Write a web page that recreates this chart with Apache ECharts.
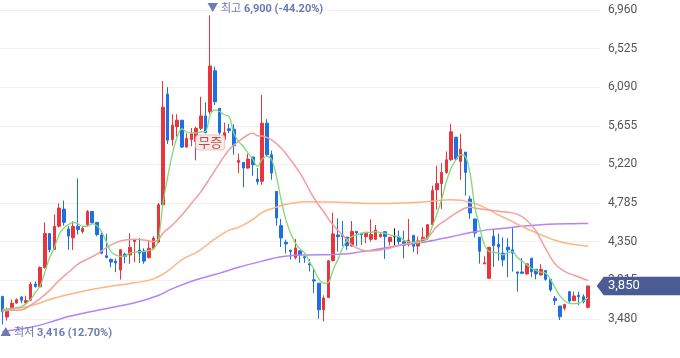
<!DOCTYPE html>
<html><head><meta charset="utf-8">
<script src="https://cdn.jsdelivr.net/npm/echarts@6/dist/echarts.min.js"></script>
<style>html,body{margin:0;padding:0;background:#fff}#c{width:680px;height:358px}</style>
</head><body><div id="c"></div>
<script>
// ---- data ----
const openP = [3730,3500,3595,3658,3725,3660,3690,3872,3840,4058,4440,4262,4523,4716,4493,4393,4522,4463,4541,4690,
4567,4425,4190,4150,4130,4030,4208,4200,4350,4255,4245,4170,4275,4345,4765,6012,5500,5645,5718,5415,
5500,5476,5627,5766,5814,6276,5852,5503,5621,5617,5243,5243,5179,5303,5055,5029,5685,5329,4916,4530,
4342,4253,4170,4246,4180,4099,3919,3881,3581,3720,4137,4425,4425,4400,4300,4465,4445,4406,4376,4376,
4406,4462,4350,4406,4399,4348,4318,4420,4300,4356,4390,4541,4935,5004,5130,5272,5527,5254,5359,4830,
4605,4399,4099,3936,4410,4320,4220,4287,4257,4008,4008,3986,4163,4038,3974,4023,3925,3711,3624,3600,
3786,3684,3744,3729,3609];
const closeP = [3560,3565,3655,3695,3690,3685,3870,3845,4058,4440,4258,4522,4728,4567,4412,4520,4486,4497,4690,4563,
4430,4219,4172,4120,4110,4258,4185,4286,4368,4220,4130,4275,4390,4765,5865,5493,5662,5718,5415,5512,
5570,5627,5766,5580,6329,5926,5577,5578,5602,5430,5265,5179,5280,5216,5025,5685,5329,5122,4616,4391,
4324,4238,4279,4204,4168,4086,3907,3581,3715,4135,4437,4406,4406,4305,4465,4447,4427,4455,4432,4481,
4432,4406,4399,4406,4350,4310,4367,4297,4360,4398,4541,4926,5004,5130,5272,5587,5280,5392,5130,4672,
4447,4241,4112,4286,4305,4290,4144,4257,4220,3993,3993,4099,4012,3986,4038,3925,3805,3684,3503,3640,
3680,3737,3729,3673,3850];
const lowP = [3416,3460,3580,3650,3655,3652,3680,3830,3835,4045,4228,4255,4510,4530,4258,4255,4430,4441,4523,4541,
4410,4208,4160,4060,4005,3922,4105,4099,4120,4110,4100,4160,4270,4335,4745,5450,5430,5535,5405,5410,
5425,5265,5608,5570,5790,5889,5551,5495,5572,5329,5122,4961,5170,5093,4991,4991,5310,5047,4530,4290,
4215,4150,4150,4110,4110,4013,3769,3480,3450,3712,4125,4237,4300,4256,4294,4300,4312,4331,4350,4370,
4395,4155,4305,4305,4305,4160,4295,4232,4208,4350,4370,4530,4710,4718,5115,5261,5265,5047,4868,4605,
4399,4102,4095,3936,4065,4135,4069,3948,4012,3786,3990,3975,3948,3925,3970,3910,3786,3635,3466,3575,
3661,3680,3635,3654,3597];
const highP = [3740,3605,3695,3710,3735,3740,3895,3900,4070,4567,4445,4655,4782,4812,4523,4580,5063,4523,4705,4692,
4570,4451,4440,4160,4160,4260,4225,4444,4375,4390,4275,4360,4410,4785,6160,6090,5785,5785,5720,5570,
5630,5645,5983,5920,6900,6321,5852,5690,5677,5674,5340,5245,5340,5305,5179,6004,5730,5374,4920,4605,
4372,4258,4380,4250,4185,4151,4050,3881,3745,4144,4677,4612,4582,4400,4582,4465,4445,4458,4601,4537,
4445,4462,4400,4500,4475,4472,4605,4420,4408,4510,4541,4981,5205,5235,5366,5677,5527,5565,5359,4868,
4605,4399,4185,4290,4485,4440,4397,4389,4502,4010,4163,4100,4163,4038,4099,4023,3925,3737,3624,3650,
3786,3786,3786,3756,3850];
// moving averages: [day index, value]
const ma5 = [[0,3575],[2,3600],[4,3615],[6,3700],[7,3780],[8,3850],[9,4004],[10,4170],[11,4282],[12,4430],[13,4504],[14,4541],
[15,4565],[16,4552],[17,4523],[18,4523],[19,4552],[20,4530],[21,4462],[22,4350],[23,4238],[24,4200],[25,4182],[26,4189],
[27,4219],[28,4230],[29,4238],[30,4238],[31,4249],[32,4264],[33,4369],[34,4780],[35,5080],[36,5342],[37,5529],[38,5622],
[39,5585],[40,5574],[41,5574],[42,5585],[43,5591],[44,5779],[45,5835],[46,5816],[47,5779],[48,5760],[49,5572],[50,5479],
[51,5422],[52,5347],[53,5280],[54,5197],[55,5280],[56,5310],[57,5272],[58,5085],[59,4822],[60,4597],[61,4447],[62,4335],
[63,4267],[64,4222],[65,4125],[66,4031],[67,3926],[68,3881],[69,3889],[70,4031],[71,4144],[72,4275],[73,4369],[74,4406],
[75,4425],[76,4444],[77,4451],[78,4455],[79,4462],[80,4451],[81,4444],[82,4425],[83,4414],[84,4406],[85,4363],[86,4350],
[87,4340],[88,4340],[89,4350],[90,4389],[91,4520],[92,4665],[93,4830],[94,5029],[95,5179],[96,5272],[97,5329],[98,5310],
[99,5122],[100,4748],[101,4522],[102,4316],[103,4241],[104,4230],[105,4222],[106,4201],[107,4227],[108,4238],[109,4170],
[110,4130],[111,4090],[112,4050],[113,4025],[114,4005],[115,3995],[116,3925],[117,3830],[118,3740],[119,3680],[120,3655],
[121,3650],[122,3658],[123,3680],[124,3720]];
const ma20 = [[0,3588],[2,3577],[4,3580],[6,3633],[8,3707],[10,3800],[12,3911],[14,4004],[16,4096],[18,4152],[20,4208],
[22,4283],[24,4339],[26,4369],[28,4376],[30,4369],[32,4350],[33,4369],[34,4444],[36,4537],[38,4649],[40,4780],[42,4911],
[44,5070],[46,5235],[48,5385],[50,5479],[52,5554],[53,5572],[54,5542],[55,5540],[57,5497],[59,5404],[61,5272],[63,5122],
[64,5030],[66,4837],[68,4687],[70,4537],[72,4425],[74,4312],[76,4256],[78,4245],[80,4256],[82,4275],[84,4312],[85,4320],
[87,4340],[89,4375],[90,4391],[92,4522],[94,4597],[96,4672],[98,4729],[99,4736],[101,4720],[103,4705],[105,4691],
[107,4680],[109,4660],[111,4590],[113,4466],[115,4270],[117,4098],[119,4015],[121,3970],[124,3911]];
const ma60 = [[0,3566],[4,3604],[7,3641],[10,3697],[14,3754],[17,3791],[21,3829],[24,3855],[28,3885],[32,3930],[35,4016],
[38,4147],[41,4225],[42,4260],[45,4380],[48,4480],[50,4510],[53,4600],[55,4680],[57,4720],[60,4770],[64,4800],[70,4795],
[75,4785],[80,4778],[85,4785],[89,4796],[93,4815],[95,4823],[97,4815],[99,4790],[101,4760],[103,4710],[105,4650],
[107,4600],[110,4520],[113,4450],[117,4365],[120,4325],[124,4297]];
const ma120 = [[0,3335],[2,3352],[6,3385],[10,3440],[14,3505],[21,3585],[28,3660],[33,3742],[36,3820],[41,3920],[46,3995],
[50,4060],[55,4130],[59,4180],[64,4200],[70,4205],[74,4220],[80,4270],[85,4314],[90,4351],[95,4405],[100,4460],[103,4485],
[107,4504],[110,4523],[114,4541],[117,4549],[121,4552],[124,4555]];
const totalSlots = 127; // 125 trading days + 2 empty slots at right
const days = Array.from({length: totalSlots}, (_, i) => 'D' + (i + 1));
const yMin = 3045, yMax = 6960, yStep = 435;
const highPoint = {idx: 44, value: 6900, label: '6,900 (-44.20%)'};
const lowPoint = {idx: 0, value: 3416, label: '3,416 (12.70%)'};
const lastPrice = 3850, lastPriceText = '3,850';
const eventMark = {idx: 44, value: 5467, text: '무증'};

// ---- chart ----
const RED = '#e9343c', BLUE = '#1c6fe6';
const chart = echarts.init(document.getElementById('c'), null, {renderer: 'canvas'});
const lineS = (name, data, color, w, z) => ({
  name, type: 'line', data, smooth: 0.35, showSymbol: false, connectNulls: true, z,
  lineStyle: {color, width: w}, itemStyle: {color}, silent: true
});
chart.setOption({
  animation: false,
  backgroundColor: '#ffffff',
  grid: {left: -1, right: 80, top: 10, height: 347.4},
  xAxis: {type: 'category', data: days, boundaryGap: true, show: false},
  yAxis: {
    type: 'value', position: 'right', min: yMin, max: yMax, interval: yStep, scale: true,
    axisLine: {show: false}, axisTick: {show: false},
    axisLabel: {showMinLabel: false, margin: 8, color: '#555', fontSize: 12, fontFamily: 'Roboto, "Noto Sans", sans-serif',
      formatter: v => v.toLocaleString('en-US')},
    splitLine: {show: true, showMinLine: false, lineStyle: {color: '#eef0f4', width: 1}}
  },
  series: [
    {
      type: 'candlestick', barWidth: 3, z: 2,
      data: openP.map((o, i) => [o, closeP[i], lowP[i], highP[i]]),
      itemStyle: {color: RED, color0: BLUE, borderColor: RED, borderColor0: BLUE, borderColorDoji: '#111', borderWidth: 1}
    },
    lineS('MA120', ma120, '#b683f5', 1.5, 3),
    lineS('MA60', ma60, '#fdb581', 1.5, 3),
    lineS('MA20', ma20, '#f59c9c', 1.5, 4),
    lineS('MA5', ma5, '#80d979', 1.3, 5)
  ]
});

const px = (idx, v) => chart.convertToPixel({seriesIndex: 0}, [idx, v]);
const ph = px(highPoint.idx, highPoint.value);
const pl = px(lowPoint.idx, lowPoint.value);
const pe = px(eventMark.idx, eventMark.value);
const pp = px(124, lastPrice);
const gridRight = 680 - 80;
const tipX = gridRight - 3.3, yc = pp[1];
const labelFont = 'Roboto, "Noto Sans CJK KR", sans-serif';
const rich = {
  a: {fill: '#6b7cb3', fontSize: 11, fontFamily: labelFont},
  b: {fill: '#6b7cb3', fontSize: 11, fontWeight: 'bold', fontFamily: labelFont}
};
chart.setOption({
  graphic: [
    {type: 'text', x: ph[0] - 3, y: ph[1] - 6, z: 100,
      style: {text: '{a|▼ 최고 }{b|' + highPoint.label + '}', rich, verticalAlign: 'middle', align: 'left'}},
    {type: 'text', x: pl[0] - 2, y: pl[1] + 8.5, z: 100,
      style: {text: '{a|▲ 최저 }{b|' + lowPoint.label + '}', rich, verticalAlign: 'middle', align: 'left'}},
    {type: 'text', x: pe[0], y: pe[1], z: 100,
      style: {text: eventMark.text, fill: '#ad524d', fontSize: 13, fontFamily: '"Noto Sans CJK KR", sans-serif',
        backgroundColor: '#fde9e8', borderColor: '#f1c3c1', borderWidth: 1, borderRadius: 3, padding: [1, 2, 0, 2],
        align: 'center', verticalAlign: 'middle'}},
    {type: 'polygon', z: 100,
      shape: {points: [[tipX, yc], [tipX + 7, yc - 9.2], [680, yc - 9.2], [680, yc + 9.2], [tipX + 7, yc + 9.2]]},
      style: {fill: '#4b5c94'}},
    {type: 'text', x: gridRight + 8, y: yc, z: 101,
      style: {text: lastPriceText, fill: '#ffffff', fontSize: 13, fontFamily: 'Roboto, sans-serif', verticalAlign: 'middle', align: 'left'}}
  ]
});
</script>
</body></html>
